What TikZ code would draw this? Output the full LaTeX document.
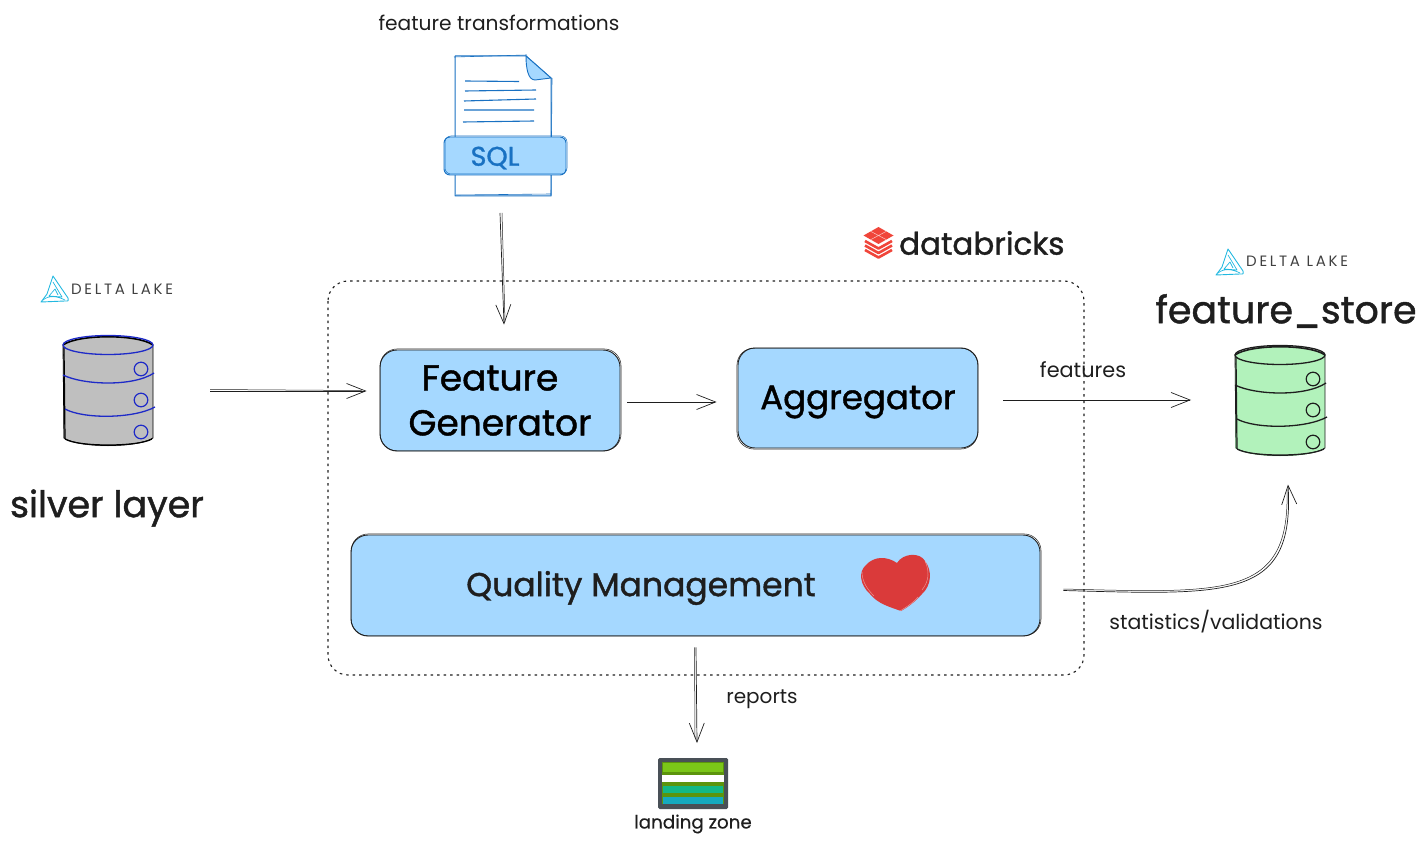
\documentclass[tikz,border=0pt]{standalone}
\usepackage{fontspec}
\setmainfont{Poppins}
\usetikzlibrary{arrows.meta,calc}
\definecolor{boxblue}{HTML}{A5D8FF}
\definecolor{sqlblue}{HTML}{1971C2}
\definecolor{dbgreen}{HTML}{B2F2BB}
\definecolor{dbgrey}{HTML}{BFBFBF}
\definecolor{dbstroke}{HTML}{1E2AC8}
\definecolor{ink}{HTML}{1E1E1E}
\definecolor{deltacyan}{HTML}{22B8E0}
\definecolor{brickred}{HTML}{F0453A}
\definecolor{heartred}{HTML}{DA3A3A}
\definecolor{landdark}{HTML}{495057}
\definecolor{landolive}{HTML}{5C940D}
\definecolor{landgreen}{HTML}{7BC618}
\definecolor{landteal}{HTML}{12B886}
\definecolor{landblue}{HTML}{15AABF}
\newcommand{\heavy}{\addfontfeature{FakeBold=1.2}}
\newcommand{\mediumw}{\addfontfeature{FakeBold=.4}}
\newcommand{\spaced}{\addfontfeature{LetterSpace=18}}
\tikzset{
  procbox/.style={draw=ink,line width=.9pt,fill=boxblue,rounded corners=17pt,inner sep=0pt,align=center},
  overstroke/.style={draw=ink,line width=.5pt,rounded corners=17pt},
  arr/.style={draw=ink,line width=.7pt,-{Straight Barb[length=19pt,width=15pt,line width=.7pt]}},
  arrtwin/.style={draw=ink,line width=.5pt},
  anchorbox/.style={inner sep=0pt,outer sep=0pt},
  label/.style={inner sep=0pt,text=ink},
  pics/cyl/.style n args={3}{code={
    \fill[#1] (-45,-46) .. controls (-30,-58) and (30,-58) .. (45,-46) -- (45,47) .. controls (30,58) and (-30,58) .. (-45,47) -- cycle;
    \draw[#2,line width=1.6pt] (-45,-46) .. controls (-30,-57) and (30,-57) .. (45,-46);
    \draw[#2,line width=.8pt] (-45,-46) -- (-44,47) .. controls (-30,57) and (30,57) .. (45,47) -- (45,-46);
    \draw[#2,line width=1.2pt] (-44,-44) -- (-43,47) (-43,48) .. controls (-30,56) and (30,56) .. (44,48);
    \draw[#3,line width=1.3pt] (0,-46) ellipse [x radius=45,y radius=9.5];
    \draw[#3,line width=1.3pt] (-45,-16) .. controls (-25,-6) and (25,-4) .. (46,-18);
    \draw[#3,line width=1.3pt] (-43,18) .. controls (-25,28) and (25,28) .. (47,16);
    \draw[#3,line width=1.2pt] (33,-22) circle (6.8) (33,9) circle (6.8) (33,41) circle (6.8);
  }},
  pics/deltamark/.style={code={
    \draw[deltacyan,line width=.9pt,line join=round] (12,0) -- (27,22) .. controls (28,26) and (26,25) .. (24,25) -- (0,26) -- (6,18) -- cycle;
    \draw[deltacyan,line width=.7pt,line join=round] (12,6) -- (21,21) -- (8,20) -- (14,13) -- (17,19) (2,24) .. controls (8,19) and (16,20) .. (24,24);
  }}
}
\newcommand{\twin}[2]{\draw[overstroke] ([shift={(#2)}]#1.south west) rectangle ([shift={(#2)}]#1.north east);}
\begin{document}
\begin{tikzpicture}[x=1pt,y=-1pt]
\useasboundingbox (0,0) rectangle (1427,845);

% container
\draw[ink,line width=1.1pt,dash pattern=on 2.5pt off 4pt,rounded corners=20pt] (328,281) rectangle (1084,675);

% process boxes
\node[procbox,minimum width=240pt,minimum height=101pt,font=\fontsize{36}{45}\selectfont\heavy] (fg) at (500,400.5) {Feature\hspace*{20pt}\\Generator};
\twin{fg}{.6,-.6}
\node[procbox,minimum width=240pt,minimum height=100pt,font=\fontsize{34}{40}\selectfont\heavy] (agg) at (858,398) {\raisebox{-4pt}[\height][\depth]{Aggregator}};
\twin{agg}{-.6,.6}
\node[procbox,minimum width=689pt,minimum height=101pt] (qm) at (695.5,585.5) {};
\twin{qm}{.6,-.6}
\node[label,font=\fontsize{33}{40}\selectfont\heavy] (qmtext) at (641,588) {Quality Management};

% heart
\fill[heartred] (897,563) .. controls (903,553) and (920,552) .. (925,561) .. controls (932,570) and (932,585) .. (922,594) .. controls (915,602) and (908,607) .. (901,611) .. controls (890,607) and (878,604) .. (870,594) .. controls (860,585) and (858,572) .. (866,565) .. controls (874,556) and (887,556) .. (897,563) -- cycle;
\draw[white,opacity=.45,line width=.5pt] (925,561) .. controls (929,570) and (930,580) .. (922,590) (862,572) .. controls (862,582) and (868,590) .. (874,596) (900,611) .. controls (908,606) and (914,602) .. (918,597);

% SQL file icon
\node[anchorbox,minimum width=122pt,minimum height=140pt] (sqlfile) at (505,126) {};
\draw[sqlblue,line width=1pt,fill=white,line join=round] (455,56) -- (526,56) -- (551,78) -- (551,196) -- (455,196) -- cycle;
\draw[sqlblue,line width=.6pt] (454,57) -- (527,55) (552,78) -- (551,195) (456,195) -- (551,194);
\fill[boxblue] (526,56) .. controls (526,68) and (528,80) .. (535,80) -- (551,78) -- cycle;
\draw[sqlblue,line width=.9pt] (526,56) .. controls (526,68) and (528,80) .. (535,80) -- (551,78) -- cycle;
\draw[sqlblue,line width=1.1pt] (465,81) -- (519,81.5) (465,91) -- (536,90) (464,101) -- (536,99) (464,110) -- (534,110) (463,122) -- (534,121);
\draw[sqlblue,line width=.9pt,fill=boxblue,rounded corners=6pt] (444,137) rectangle (566,175);
\draw[sqlblue,line width=.5pt,rounded corners=6pt] (445,136) rectangle (567,174);
\node[label,text=sqlblue,font=\fontsize{27}{30}\selectfont\heavy] (sqltext) at (495,158) {SQL};
\node[label,font=\fontsize{20.2}{24}\selectfont] (ftext) at (499,23) {feature transformations};

% silver db
\node[anchorbox,minimum width=90pt,minimum height=112pt] (silver) at (108,391) {};
\pic at (108,391) {cyl={dbgrey}{black}{dbstroke}};
\pic at (41,276) {deltamark};
\node[label,font=\fontsize{15}{18}\selectfont\spaced,anchor=west,text=ink!85] (dl1) at (71,289) {DELTA LAKE};
\node[label,font=\fontsize{36.5}{42}\selectfont\heavy] (silvertext) at (107,508) {silver layer};

% feature store db
\node[anchorbox,minimum width=90pt,minimum height=113pt] (store) at (1280,401) {};
\pic at (1280,401) {cyl={dbgreen}{ink}{ink}};
\pic at (1216,249) {deltamark};
\node[label,font=\fontsize{15}{18}\selectfont\spaced,anchor=west,text=ink!85] (dl2) at (1246,261) {DELTA LAKE};
\node[label,font=\fontsize{38}{44}\selectfont\heavy] (storetext) at (1286,311) {feature\_store};

% databricks
\foreach \dy in {14,9.5,5} {
  \draw[brickred,line width=2.6pt,line join=round] (865,{236+\dy}) -- (878.5,{243.5+\dy}) -- (892,{236+\dy});
}
\fill[brickred,line join=round] (878.5,227) -- (893.5,235.5) -- (878.5,244) -- (863.5,235.5) -- cycle;
\draw[white,line width=.5pt,opacity=.7] (871,231.5) -- (886,239.5) (886,231.5) -- (871,239.5);
\node[label,font=\fontsize{31}{36}\selectfont\heavy,anchor=west] (dbtext) at (899,243) {databricks};

% landing zone icon
\node[anchorbox,minimum width=70pt,minimum height=51pt] (landing) at (693,783.5) {};
\fill[landdark,rounded corners=1.5pt] (658,758) rectangle (728,809);
\fill[landolive] (662,762) rectangle (724,804);
\fill[landgreen] (663,763) rectangle (723,772);
\fill[white] (662,775) rectangle (724,782);
\fill[landteal] (663,786) rectangle (723,793);
\fill[landblue] (663,797) rectangle (723,804);
\node[label,font=\fontsize{18.3}{22}\selectfont\mediumw] (landtext) at (693,824) {landing zone};

% connectors
\draw[arr] ([shift={(-5,17)}]sqlfile.south) -- ([shift={(4,-25)}]fg.north);
\draw[arrtwin] ([shift={(-3,17)}]sqlfile.south) -- ([shift={(5,-28)}]fg.north);
\draw[arr] ([shift={(57,0)}]silver.east) -- ([shift={(-13,-9.5)}]fg.west);
\draw[arrtwin] ([shift={(57,-1.5)}]silver.east) -- ([shift={(-18,-10)}]fg.west);
\draw[arr] ([shift={(7,1.5)}]fg.east) -- ([shift={(-21,4)}]agg.west);
\draw[arr] ([shift={(25,2)}]agg.east) -- ([shift={(-44,-1)}]store.west);
\draw[arr] ([shift={(23,5)}]qm.east) .. controls (1230,595) and (1295,600) .. ([shift={(8,27)}]store.south);
\draw[arrtwin] ([shift={(23,3.5)}]qm.east) .. controls (1228,593) and (1290,598) .. ([shift={(7,32)}]store.south);
\draw[arr] ([shift={(.5,11)}]qm.south) -- ([shift={(4,-15)}]landing.north);
\draw[arrtwin] ([shift={(-1,11)}]qm.south) -- ([shift={(2,-20)}]landing.north);

% connector labels
\node[label,font=\fontsize{20.8}{24}\selectfont] (lfeat) at (1083,370) {features};
\node[label,font=\fontsize{20.5}{24}\selectfont] (lstat) at (1216,622) {statistics/validations};
\node[label,font=\fontsize{20}{24}\selectfont] (lrep) at (762,699) {reports};
\end{tikzpicture}
\end{document}
